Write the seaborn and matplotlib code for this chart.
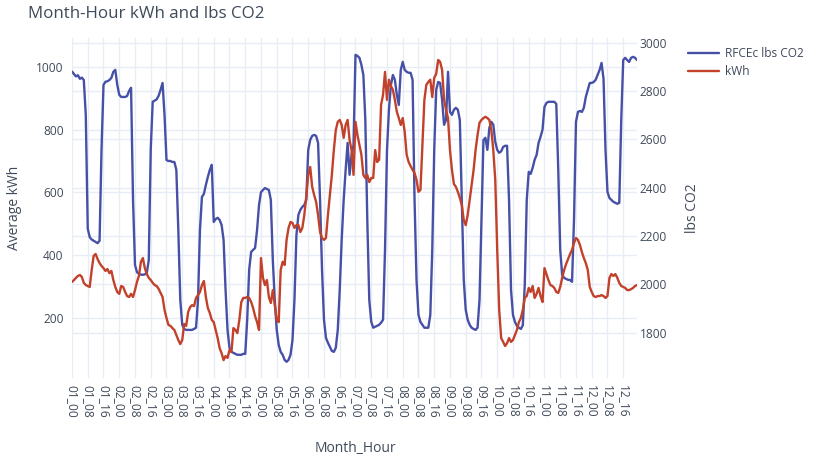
import matplotlib
matplotlib.use("Agg")
import matplotlib.pyplot as plt
import pandas as pd
import seaborn as sns
from matplotlib.lines import Line2D
from matplotlib.transforms import blended_transform_factory

# Month_Hour categories: 12 months x 24 hours
months = [f"{m:02d}" for m in range(1, 13)]
hours = [f"{h:02d}" for h in range(24)]
month_hour = [f"{m}_{h}" for m in months for h in hours]

# Average kWh per month-hour (one row of 24 values per month)
kwh = [
    315, 321, 328, 334, 337, 331, 312, 305, 302, 299, 353, 398, 404, 388, 375, 366, 359, 350, 356, 343, 350, 321, 299, 283,
    277, 302, 299, 283, 270, 267, 277, 267, 289, 315, 334, 379, 391, 359, 340, 328, 321, 312, 305, 302, 293, 280, 267, 226,
    200, 178, 175, 168, 162, 146, 130, 117, 130, 181, 175, 219, 235, 241, 238, 264, 273, 283, 305, 318, 267, 232, 216, 194,
    187, 162, 136, 104, 88, 66, 79, 73, 98, 92, 168, 162, 152, 194, 251, 264, 264, 267, 264, 251, 232, 206, 187, 162,
    391, 328, 305, 321, 267, 248, 289, 241, 194, 187, 353, 379, 369, 449, 487, 506, 503, 487, 496, 496, 474, 487, 528, 586,
    656, 681, 618, 592, 570, 528, 474, 455, 449, 455, 528, 592, 656, 735, 799, 825, 831, 815, 774, 815, 831, 767, 735, 656,
    825, 783, 751, 720, 656, 646, 656, 633, 646, 646, 735, 697, 704, 879, 911, 984, 895, 959, 939, 927, 895, 857, 837, 815,
    837, 793, 720, 697, 684, 672, 662, 640, 602, 608, 751, 895, 943, 952, 959, 904, 965, 978, 1022, 1016, 990, 895, 863, 837,
    735, 672, 627, 618, 602, 583, 560, 512, 496, 528, 576, 624, 672, 735, 783, 822, 831, 837, 841, 837, 831, 799, 735, 640,
    417, 226, 136, 124, 111, 120, 136, 124, 130, 146, 162, 187, 200, 226, 264, 270, 296, 283, 302, 264, 277, 296, 270, 251,
    359, 340, 321, 305, 302, 296, 283, 280, 299, 328, 353, 372, 388, 404, 417, 439, 455, 449, 433, 410, 391, 375, 353, 299,
    283, 270, 267, 270, 270, 273, 270, 264, 270, 328, 340, 334, 340, 328, 312, 302, 299, 296, 289, 289, 292, 296, 302, 305,
]

# RFCEc lbs CO2 per month-hour (one row of 24 values per month)
lbs_co2 = [
    2880, 2870, 2860, 2865, 2850, 2855, 2845, 2700, 2230, 2195, 2185, 2180, 2175, 2170, 2180, 2560, 2825, 2838, 2840, 2845, 2854, 2879, 2887, 2825,
    2784, 2775, 2775, 2775, 2779, 2800, 2813, 2350, 2080, 2050, 2043, 2040, 2039, 2041, 2047, 2100, 2560, 2755, 2760, 2765, 2780, 2805, 2833, 2700,
    2514, 2510, 2510, 2506, 2506, 2473, 2225, 1935, 1832, 1815, 1811, 1811, 1811, 1811, 1815, 1820, 1935, 2225, 2361, 2374, 2411, 2444, 2473, 2494,
    2258, 2270, 2275, 2266, 2245, 2183, 1977, 1811, 1737, 1720, 1716, 1712, 1708, 1708, 1708, 1712, 1712, 1853, 2060, 2134, 2142, 2150, 2224, 2328,
    2381, 2390, 2398, 2394, 2390, 2349, 2101, 1935, 1811, 1749, 1720, 1708, 1687, 1679, 1687, 1708, 1769, 1935, 2204, 2287, 2308, 2320, 2328, 2349,
    2556, 2597, 2614, 2618, 2614, 2585, 2349, 2060, 1853, 1778, 1758, 1741, 1724, 1720, 1737, 1811, 1977, 2184, 2349, 2473, 2585, 2453, 2535, 2577,
    2949, 2945, 2937, 2908, 2866, 2680, 2266, 1935, 1845, 1820, 1824, 1828, 1832, 1841, 1853, 2142, 2556, 2722, 2825, 2866, 2846, 2784, 2742, 2887,
    2920, 2887, 2879, 2875, 2875, 2846, 2349, 2018, 1873, 1844, 1832, 1820, 1820, 1820, 1873, 2142, 2556, 2804, 2837, 2833, 2763, 2660, 2680, 2879,
    2713, 2701, 2722, 2730, 2722, 2680, 2349, 2018, 1894, 1853, 1832, 1820, 1815, 1811, 1820, 1935, 2266, 2597, 2606, 2556, 2647, 2672, 2660, 2589,
    2556, 2544, 2550, 2568, 2573, 2573, 2349, 1977, 1873, 1844, 1828, 1820, 1815, 1830, 2000, 2350, 2465, 2457, 2482, 2515, 2535, 2585, 2610, 2639,
    2734, 2750, 2755, 2755, 2755, 2755, 2746, 2473, 2142, 2039, 2026, 2022, 2018, 2018, 2010, 2266, 2672, 2713, 2717, 2713, 2730, 2775, 2804, 2833,
    2833, 2837, 2846, 2866, 2887, 2916, 2850, 2556, 2382, 2357, 2349, 2341, 2337, 2333, 2337, 2680, 2928, 2937, 2928, 2920, 2937, 2941, 2937, 2928,
]

kwh_ticks = [200, 400, 600, 800, 1000]
co2_ticks = [1800, 2000, 2200, 2400, 2600, 2800, 3000]

df = pd.DataFrame({"Month_Hour": month_hour, "kWh": kwh, "RFCEc lbs CO2": lbs_co2})

BLUE = "#4650A6"
RED = "#C2412B"
TEXT = "#3f4a5a"
GRID = "#E8EDF5"

sns.set_theme(style="white")
plt.rcParams["font.family"] = ["Open Sans", "DejaVu Sans"]

W, H = 827, 461
fig = plt.figure(figsize=(W / 100, H / 100), dpi=100)
left, right, top, bottom = 72, 637, 38, 378
rect = [left / W, 1 - bottom / H, (right - left) / W, (bottom - top) / H]

ax = fig.add_axes(rect)          # kWh, left axis (front)
ax2 = ax.twinx()                 # lbs CO2, right axis (back)
ax.set_zorder(2)
ax2.set_zorder(1)
ax.patch.set_visible(False)

ax.set_ylim(9, 1092)
ax2.set_ylim(1612, 3019)

# Grid: drawn on the back axes so both traces sit above it
for i in range(0, len(month_hour), 8):
    ax2.axvline(i, color=GRID, lw=1.0, zorder=0)
for v in co2_ticks:
    ax2.axhline(v, color=GRID, lw=1.0, zorder=0)
kwh_tr = blended_transform_factory(ax2.transAxes, ax.transData)
for v in kwh_ticks:
    ax2.plot([0, 1], [v, v], transform=kwh_tr, color=GRID, lw=1.0, zorder=0)

sns.lineplot(data=df, x="Month_Hour", y="RFCEc lbs CO2", ax=ax2, color=BLUE,
             linewidth=1.7, sort=False, zorder=2)
sns.lineplot(data=df, x="Month_Hour", y="kWh", ax=ax, color=RED,
             linewidth=1.7, sort=False, zorder=3)

ax.set_xlim(0, len(month_hour) - 1)
ax.set_xticks(range(0, len(month_hour), 8))
ax.set_xticklabels(month_hour[::8], rotation=-90, ha="center", va="top")
ax.set_yticks(kwh_ticks)
ax2.set_yticks(co2_ticks)

ax.tick_params(axis="x", length=0, pad=5, labelsize=8.6, colors=TEXT)
ax.tick_params(axis="y", length=0, pad=6, labelsize=8.6, colors=TEXT)
ax2.tick_params(axis="y", length=0, pad=2, labelsize=8.6, colors=TEXT)

for a in (ax, ax2):
    a.set_xlabel("")
    a.set_ylabel("")
    for s in a.spines.values():
        s.set_visible(False)
    a.grid(False)

fig.text(28 / W, 1 - 14 / H, "Month-Hour kWh and lbs CO2", ha="left", va="center",
         fontsize=12.2, color=TEXT)
fig.text(15 / W, 1 - 208 / H, "Average kWh", rotation=90, ha="center", va="center",
         fontsize=10, color=TEXT)
fig.text(692 / W, 1 - 208 / H, "lbs CO2", rotation=90, ha="center", va="center",
         fontsize=10, color=TEXT)
fig.text(355 / W, 1 - 448 / H, "Month_Hour", ha="center", va="center",
         fontsize=10, color=TEXT)

handles = [Line2D([], [], color=BLUE, lw=1.7), Line2D([], [], color=RED, lw=1.7)]
fig.legend(handles, ["RFCEc lbs CO2", "kWh"], loc="upper left",
           bbox_to_anchor=(688 / W, 1 - 47 / H), frameon=False, fontsize=8.6,
           handlelength=2.6, handletextpad=0.5, labelspacing=0.45,
           borderpad=0, borderaxespad=0, labelcolor=TEXT)

fig.savefig("out.png", dpi=100, facecolor="white")
